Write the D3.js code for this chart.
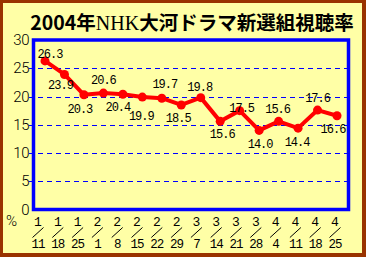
<!DOCTYPE html>
<html>
<head>
<meta charset="utf-8">
<script src="https://cdn.jsdelivr.net/npm/d3@7"></script>
<style>
  body { margin: 0; background: #fff; }
  svg { display: block; }
</style>
</head>
<body>
<div id="chart"></div>
<script>
var w = 366,
    h = 257;

// weekly ratings, Jan - Apr 2004
var months = ["1","1","1","2","2","2","2","2","3","3","3","3","4","4","4","4"];
var days   = ["11","18","25","1","8","15","22","29","7","14","21","28","4","11","18","25"];
var ratings = [26.3, 23.9, 20.3, 20.6, 20.4, 19.9, 19.7, 18.5, 19.8, 15.6, 17.5, 14.0, 15.6, 14.4, 17.6, 16.6];
var yTicks = [0, 5, 10, 15, 20, 25, 30];

// where each value label sits relative to its point: [dx, dy]
var labelNudge = [[5,-7],[-4,11],[-4,14],[0,-13],[-5,13],[-1,19],[3,-14],[-3,13],
                  [-1,-11],[2,13],[2,-3],[1,14],[-1,-12],[-1,14],[0,-12],[-4,13]];

var idx = d3.range(ratings.length);

var svg = d3.select("#chart").append("svg")
  .attr("width", w)
  .attr("height", h);

// frame
svg.append("rect")
  .attr("x", 0).attr("y", 0)
  .attr("width", w).attr("height", h)
  .attr("fill", "#993300");

svg.append("rect")
  .attr("x", 3).attr("y", 3)
  .attr("width", w - 7).attr("height", h - 7)
  .attr("fill", "#ffffa6");

// title
var title = svg.append("text")
  .attr("x", 192)
  .attr("y", 30)
  .attr("text-anchor", "middle")
  .style("font-family", "'Noto Sans CJK JP', sans-serif")
  .style("font-size", "19.5px")
  .style("font-weight", "bold")
  .attr("fill", "#000");
title.append("tspan").text("2004年");
title.append("tspan")
  .style("font-family", "'Liberation Serif', serif")
  .style("font-weight", "normal")
  .style("font-size", "20px")
  .text("NHK");
title.append("tspan").text("大河ドラマ新選組視聴率");

var x = d3.scalePoint()
  .domain(idx)
  .range([45, 337]);

var xLab = d3.scalePoint()
  .domain(idx)
  .range([38, 335]);

var y = d3.scaleLinear()
  .domain([0, 30])
  .range([209.5, 40]);

// grid
svg.append("g")
  .selectAll("line")
  .data(yTicks.filter(function(d) { return d > 0 && d < 30; }))
  .enter().append("line")
  .attr("x1", 29).attr("x2", 347)
  .attr("y1", function(d) { return Math.round(y(d)) + 0.5; })
  .attr("y2", function(d) { return Math.round(y(d)) + 0.5; })
  .attr("stroke", "#0000ff")
  .attr("stroke-width", 1)
  .attr("stroke-dasharray", "5,4");

// plot border
svg.append("rect")
  .attr("x", 33.5)
  .attr("y", y(30))
  .attr("width", 315)
  .attr("height", y(0) - y(30))
  .attr("fill", "none")
  .attr("stroke", "#0000ff")
  .attr("stroke-width", 3.5);

// y labels
svg.append("g")
  .selectAll("text")
  .data(yTicks)
  .enter().append("text")
  .attr("x", 29)
  .attr("y", function(d) { return y(d) + 5; })
  .attr("text-anchor", "end")
  .style("font-family", "Roboto, sans-serif")
  .style("font-size", "15px")
  .style("font-weight", "300")
  .style("letter-spacing", "-0.5px")
  .text(function(d) { return d; });

svg.append("text")
  .attr("x", 6)
  .attr("y", 226)
  .style("font-family", "Roboto, sans-serif")
  .style("font-size", "15px")
  .style("font-weight", "300")
  .text("%");

// x labels: month / day
var xg = svg.append("g")
  .selectAll("g")
  .data(idx)
  .enter().append("g")
  .attr("transform", function(i) { return "translate(" + xLab(i) + ",0)"; });

xg.append("text")
  .attr("y", 226)
  .attr("text-anchor", "middle")
  .style("font-family", "'Liberation Mono', monospace")
  .style("font-size", "13px")
  .text(function(i) { return months[i]; });

xg.append("line")
  .attr("x1", -5.5).attr("y1", 237.5)
  .attr("x2", 5.5).attr("y2", 227.5)
  .attr("stroke", "#000")
  .attr("stroke-width", 1);

xg.append("text")
  .attr("y", 248)
  .attr("text-anchor", "middle")
  .style("font-family", "'Liberation Mono', monospace")
  .style("font-size", "12.5px")
  .style("letter-spacing", "-1px")
  .text(function(i) { return days[i]; });

// line + markers
var line = d3.line()
  .x(function(i) { return x(i); })
  .y(function(i) { return y(ratings[i]); });

svg.append("path")
  .datum(idx)
  .attr("d", line)
  .attr("fill", "none")
  .attr("stroke", "#ff0000")
  .attr("stroke-width", 4)
  .attr("stroke-linejoin", "round");

svg.append("g")
  .selectAll("circle")
  .data(idx)
  .enter().append("circle")
  .attr("cx", function(i) { return x(i); })
  .attr("cy", function(i) { return y(ratings[i]); })
  .attr("r", 4.5)
  .attr("fill", "#ff0000");

// value labels
svg.append("g")
  .selectAll("text")
  .data(idx)
  .enter().append("text")
  .attr("x", function(i) { return x(i) + labelNudge[i][0]; })
  .attr("y", function(i) { return y(ratings[i]) + labelNudge[i][1] + 4; })
  .attr("text-anchor", "middle")
  .style("font-family", "'Liberation Mono', monospace")
  .style("font-size", "12px")
  .style("letter-spacing", "-1px")
  .text(function(i) { return ratings[i].toFixed(1); });
</script>
</body>
</html>
